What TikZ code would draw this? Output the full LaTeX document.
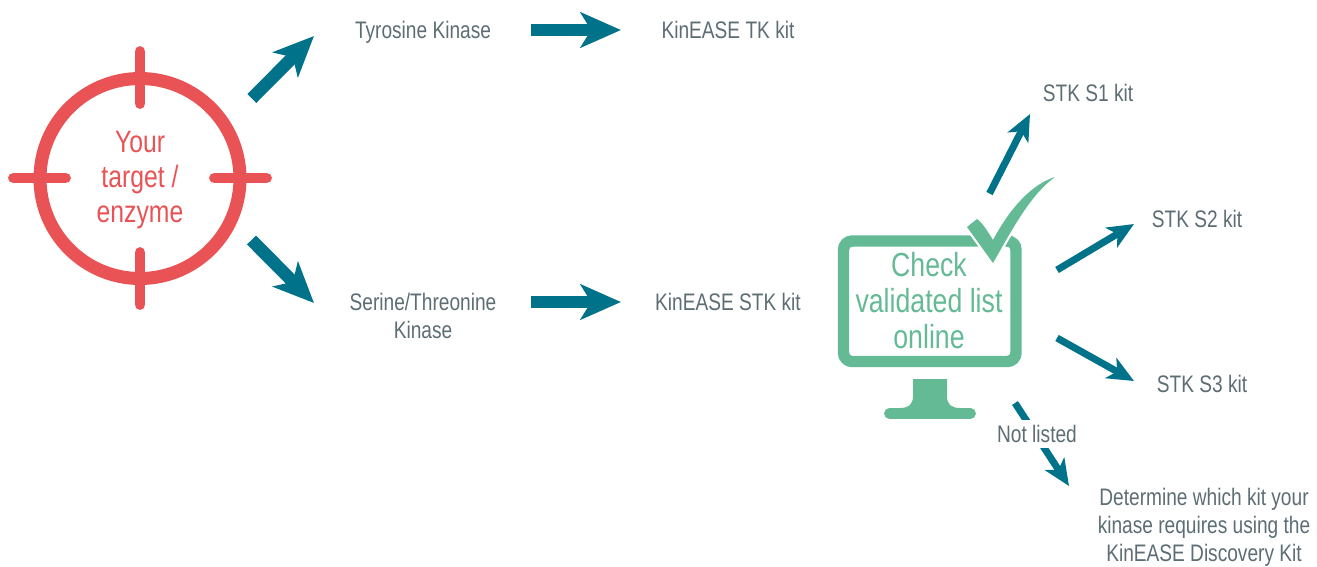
\documentclass[tikz,border=0pt]{standalone}
\usepackage{fontspec}
\setmainfont[FakeStretch=0.8]{Liberation Sans}
\usetikzlibrary{arrows.meta}
\definecolor{targetred}{HTML}{E95355}
\definecolor{flowteal}{HTML}{00728A}
\definecolor{checkgreen}{HTML}{65BA96}
\definecolor{labelgrey}{HTML}{5D6D74}
\tikzset{
  kitlabel/.style={text=labelgrey, font=\fontsize{13.6}{16}\selectfont, align=center, inner sep=0pt},
  bigarrow/.style={draw=flowteal, line width=7.2pt, -{Stealth[length=23pt,width=20pt,inset=6pt]}},
  smallarrow/.style={draw=flowteal, line width=4pt, -{Stealth[length=15pt,width=13pt,inset=4pt]}},
  crosshair/.style={draw=targetred, line width=6.2pt, line cap=round},
}
\begin{document}
\begin{tikzpicture}[x=0.02cm, y=-0.02cm]
  \useasboundingbox (0,0) rectangle (1317,566);
  % target
  \node [circle, draw=targetred, line width=7.4pt, minimum size=200*0.02cm, inner sep=0pt] (ring) at (140,178.5) {};
  \node [text=targetred, align=center, inner sep=0pt, font=\fontsize{17.6}{20}\selectfont] (target) at (140,180) {Your\\target /\\enzyme};
  \draw [crosshair] (140,51.5) -- (140,103.5);
  \draw [crosshair] (140,252.5) -- (140,304.5);
  \draw [crosshair] (13.5,178) -- (65.5,178);
  \draw [crosshair] (214.5,178) -- (266.5,178);
  % labels
  \node [kitlabel] (tyrosine) at (423,32) {Tyrosine Kinase};
  \node [kitlabel] (tkkit) at (728,30) {KinEASE TK kit};
  \node [kitlabel] (serine) at (423,316) {Serine/Threonine\\Kinase};
  \node [kitlabel] (stkkit) at (728,302) {KinEASE STK kit};
  \node [kitlabel] (sone) at (1088,93) {STK S1 kit};
  \node [kitlabel] (stwo) at (1197,219) {STK S2 kit};
  \node [kitlabel] (sthree) at (1202,384) {STK S3 kit};
  \node [kitlabel] (discovery) at (1204,527) {Determine which kit your\\kinase requires using the\\KinEASE Discovery Kit};
  % monitor
  \draw [checkgreen, line width=6.5pt, rounded corners=5pt] (843.5,241) rectangle (1016,361.5);
  \fill [checkgreen] (913,379) -- (947,379) -- (947,396) .. controls (947,405) and (952,408) .. (960,408)
    -- (900,408) .. controls (908,408) and (913,405) .. (913,396) -- cycle;
  \draw [checkgreen, line width=6.2pt, line cap=round] (889.5,413.5) -- (970.5,413.5);
  \node [text=checkgreen, align=center, inner sep=0pt, font=\fontsize{19}{20.5}\selectfont] (check) at (929,301) {Check\\validated list\\online};
  \path [fill=checkgreen, draw=white, line width=2.5pt] (967,227) -- (977,219)
    .. controls (982,222) and (988,232) .. (993,240)
    .. controls (1010,208) and (1032,184) .. (1055,177)
    .. controls (1030,195) and (1012,230) .. (993,263) -- cycle;
  \fill [checkgreen] (967,227) -- (977,219)
    .. controls (982,222) and (988,232) .. (993,240)
    .. controls (1010,208) and (1032,184) .. (1055,177)
    .. controls (1030,195) and (1012,230) .. (993,263) -- cycle;
  % arrows
  \coordinate (a1) at (251.8,98.5);   \coordinate (b1) at (314,36);
  \coordinate (a2) at (251.5,240);    \coordinate (b2) at (314,303);
  \coordinate (a3) at (531,30);       \coordinate (b3) at (621,30);
  \coordinate (a4) at (531,302);      \coordinate (b4) at (621,302);
  \coordinate (a5) at (989.5,193.5);  \coordinate (b5) at (1030,114);
  \coordinate (a6) at (1057,270);     \coordinate (b6) at (1134,224);
  \coordinate (a7) at (1057,338);     \coordinate (b7) at (1134,381);
  \coordinate (a8) at (1015,403);     \coordinate (b8) at (1069,486);
  \draw [bigarrow] (a1) -- (b1);
  \draw [bigarrow] (a2) -- (b2);
  \draw [bigarrow] (a3) -- (b3);
  \draw [bigarrow] (a4) -- (b4);
  \draw [smallarrow] (a5) -- (b5);
  \draw [smallarrow] (a6) -- (b6);
  \draw [smallarrow] (a7) -- (b7);
  \draw [smallarrow] (a8) -- (b8);
  \node [kitlabel, fill=white, inner xsep=1pt, inner ysep=3pt] (notlisted) at (1037,434) {Not listed};
\end{tikzpicture}
\end{document}
